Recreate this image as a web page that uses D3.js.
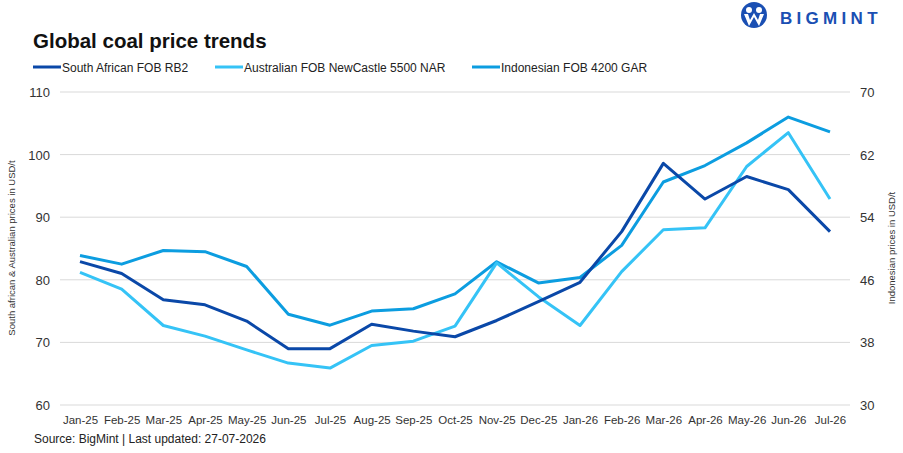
<!DOCTYPE html>
<html>
<head>
<meta charset="utf-8">
<script src="https://d3js.org/d3.v7.min.js"></script>
<style>
  body { margin: 0; background: #fff; }
  svg { display: block; font-family: "Liberation Sans", Arial, sans-serif; }
</style>
</head>
<body>
<div id="chart"></div>
<script>
// datos
const months = ["Jan-25","Feb-25","Mar-25","Apr-25","May-25","Jun-25","Jul-25","Aug-25","Sep-25","Oct-25",
  "Nov-25","Dec-25","Jan-26","Feb-26","Mar-26","Apr-26","May-26","Jun-26","Jul-26"];
const southAfrican = [82.9,81.0,76.8,76.0,73.4,69.0,69.0,72.9,71.8,70.9,73.5,76.5,79.6,87.7,98.6,92.9,96.5,94.4,87.7];
const australian = [81.2,78.5,72.7,71.0,68.8,66.7,65.9,69.5,70.2,72.6,82.7,77.3,72.7,81.3,88.0,88.3,98.1,103.5,92.9];
const indonesian = [49.1,48.0,49.75,49.6,47.7,41.6,40.2,42.0,42.3,44.2,48.3,45.6,46.3,50.4,58.5,60.6,63.5,66.8,64.9];
const leftTicks = [60,70,80,90,100,110];
const rightTicks = [30,38,46,54,62,70];

const W = 903, H = 453;
const margin = { top: 92, right: 53, bottom: 48, left: 60 };

const svg = d3.select("#chart").append("svg")
  .attr("width", W).attr("height", H);

// titulo
svg.append("text").attr("x", 33).attr("y", 48)
  .attr("font-size", 20.5).attr("font-weight", "bold").attr("fill", "#111")
  .text("Global coal price trends");

// logo
const logo = svg.append("g");
logo.append("circle").attr("cx", 754).attr("cy", 15).attr("r", 13).attr("fill", "#1a4fb3");
logo.append("circle").attr("cx", 749).attr("cy", 10).attr("r", 3).attr("fill", "#fff");
logo.append("circle").attr("cx", 759).attr("cy", 10).attr("r", 3).attr("fill", "#fff");
logo.append("path").attr("d", "M744,14 L749,26 L754,17 L759,26 L764,14 L760,14 L758,20 L754,13 L750,20 L748,14 Z")
  .attr("fill", "#fff");
logo.append("text").attr("x", 780).attr("y", 24)
  .attr("font-size", 17).attr("font-weight", "bold").attr("fill", "#1a4fb3")
  .attr("letter-spacing", 4.3).text("BIGMINT");

const colors = { sa: "#0a48a8", au: "#35c3f6", id: "#0c9de0" };

// leyenda
const legend = [
  { name: "South African FOB RB2", color: colors.sa, x: 33 },
  { name: "Australian FOB NewCastle 5500 NAR", color: colors.au, x: 215 },
  { name: "Indonesian FOB 4200 GAR", color: colors.id, x: 472 }
];
legend.forEach(d => {
  svg.append("line").attr("x1", d.x).attr("x2", d.x + 28).attr("y1", 67).attr("y2", 67)
    .attr("stroke", d.color).attr("stroke-width", 3);
  svg.append("text").attr("x", d.x + 29).attr("y", 71.5)
    .attr("font-size", 12).attr("fill", "#222").text(d.name);
});

const x = d3.scalePoint().domain(months)
  .range([80, 830]);
const yL = d3.scaleLinear().domain([60, 110]).range([H - margin.bottom - 0, margin.top]);
const yR = d3.scaleLinear().domain([30, 70]).range(yL.range());

// grid
svg.append("g").selectAll("line").data(leftTicks).join("line")
  .attr("x1", margin.left).attr("x2", W - margin.right)
  .attr("y1", d => yL(d)).attr("y2", d => yL(d))
  .attr("stroke", "#d9d9d9").attr("stroke-width", 1);

// ejes
const axL = svg.append("g").attr("transform", `translate(${margin.left - 10},0)`)
  .call(d3.axisLeft(yL).tickValues(leftTicks).tickSize(0).tickPadding(0));
const axR = svg.append("g").attr("transform", `translate(${W - margin.right + 10},0)`)
  .call(d3.axisRight(yR).tickValues(rightTicks).tickSize(0).tickPadding(0));
const axB = svg.append("g").attr("transform", `translate(0,${yL(60) + 15})`)
  .call(d3.axisBottom(x).tickSize(0).tickPadding(0));
[axL, axR, axB].forEach(a => {
  a.select(".domain").remove();
  a.selectAll("text").attr("fill", "#333").style("font-family", "Liberation Sans, Arial, sans-serif");
});
axL.selectAll("text").attr("font-size", 13).attr("dy", "0.35em");
axR.selectAll("text").attr("font-size", 13).attr("dy", "0.35em");
axB.selectAll("text").attr("font-size", 11.5).attr("dy", "0.35em");

svg.append("text").attr("transform", `translate(15,248) rotate(-90)`)
  .attr("text-anchor", "middle").attr("font-size", 9.5).attr("fill", "#333")
  .text("South african & Australian prices in USD/t");
svg.append("text").attr("transform", `translate(895,248) rotate(-90)`)
  .attr("text-anchor", "middle").attr("font-size", 9.5).attr("fill", "#333")
  .text("Indonesian prices in USD/t");

// lineas
const lineL = d3.line().x((d, i) => x(months[i])).y(d => yL(d));
const lineR = d3.line().x((d, i) => x(months[i])).y(d => yR(d));

svg.append("path").datum(indonesian).attr("d", lineR)
  .attr("fill", "none").attr("stroke", colors.id).attr("stroke-width", 3).attr("stroke-linejoin", "round");
svg.append("path").datum(australian).attr("d", lineL)
  .attr("fill", "none").attr("stroke", colors.au).attr("stroke-width", 3).attr("stroke-linejoin", "round");
svg.append("path").datum(southAfrican).attr("d", lineL)
  .attr("fill", "none").attr("stroke", colors.sa).attr("stroke-width", 3).attr("stroke-linejoin", "round");

// fuente
svg.append("text").attr("x", 34).attr("y", 443)
  .attr("font-size", 12).attr("fill", "#222")
  .text("Source: BigMint | Last updated: 27-07-2026");
</script>
</body>
</html>
